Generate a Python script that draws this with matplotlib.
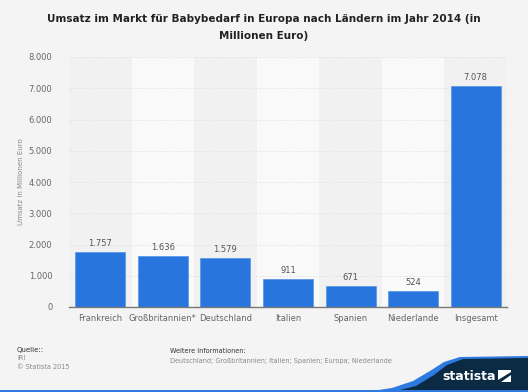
import matplotlib.pyplot as plt
import numpy as np
from matplotlib.patches import Polygon, Rectangle

laender = ['Frankreich', 'Großbritannien*', 'Deutschland', 'Italien', 'Spanien', 'Niederlande', 'Insgesamt']
umsatz = [1757, 1636, 1579, 911, 671, 524, 7078]
y_ticks = [0, 1000, 2000, 3000, 4000, 5000, 6000, 7000, 8000]

W, H = 528, 392

def fmt(v):
    return f'{v:,}'.replace(',', '.')

fig = plt.figure(figsize=(W / 100, H / 100), dpi=100)
fig.patch.set_facecolor('#f4f4f4')

ax = fig.add_axes([69 / W, 1 - 307 / H, 438 / W, 250 / H])
ax.set_facecolor('#f4f4f4')

x = np.arange(len(laender))
# abwechselnde Hintergrundstreifen
for i in x:
    col = '#f1f1f1' if i % 2 == 0 else '#f9f9f9'
    ax.axvspan(i - 0.5, i + 0.5, color=col, zorder=0, lw=0)

for t in y_ticks[1:]:
    ax.axhline(t, color='#e0e0e0', lw=0.6, ls=(0, (2, 2)), zorder=1)

bars = ax.bar(x, umsatz, width=0.8, color='#2876dd', edgecolor='#5c9ae8', lw=0.6, zorder=2)
for xi, v in zip(x, umsatz):
    ax.text(xi, v + 120, fmt(v), ha='center', va='bottom', fontsize=6, color='#555555')

ax.set_xlim(-0.5, len(laender) - 0.5)
ax.set_ylim(0, 8000)
ax.set_yticks(y_ticks)
ax.set_yticklabels([fmt(t) for t in y_ticks])
ax.set_xticks(x)
ax.set_xticklabels(laender)
ax.tick_params(axis='both', length=0, labelsize=6, colors='#666666')
ax.tick_params(axis='y', pad=12)
ax.tick_params(axis='x', pad=5)
for s in ['top', 'right', 'left']:
    ax.spines[s].set_visible(False)
ax.spines['bottom'].set_color('#777777')
ax.spines['bottom'].set_linewidth(1)
ax.set_ylabel('Umsatz in Millionen Euro', fontsize=5, color='#888888', labelpad=3)

fig.text(0.5, 1 - 27.5 / H, 'Umsatz im Markt für Babybedarf in Europa nach Ländern im Jahr 2014 (in\nMillionen Euro)',
         ha='center', va='center', fontsize=7.5, fontweight='bold', color='#222222', linespacing=1.85)

# Fußzeile
fig.text(17 / W, 1 - 350 / H, 'Quelle::', fontsize=5, color='#333333', va='center')
fig.text(17 / W, 1 - 358.5 / H, 'IRI', fontsize=4.7, color='#888888', va='center')
fig.text(17 / W, 1 - 367 / H, '© Statista 2015', fontsize=4.7, color='#888888', va='center')
fig.text(170 / W, 1 - 351 / H, 'Weitere Informationen:', fontsize=4.7, color='#333333', va='center')
fig.text(170 / W, 1 - 361 / H, 'Deutschland; Großbritannien; Italien; Spanien; Europa; Niederlande',
         fontsize=4.7, color='#888888', va='center')

def fx(px):
    return px / W

def fy(py):
    return 1 - py / H

blue_edge = [(365, 392), (392, 388), (413, 381), (430, 371), (444, 362), (460, 357), (528, 356), (528, 392)]
dark = [(392, 392), (416, 386), (434, 375), (447, 365), (463, 359), (528, 358), (528, 392)]
fig.patches.append(Polygon([(fx(a), fy(b)) for a, b in blue_edge], closed=True, transform=fig.transFigure,
                           facecolor='#2e7ae0', edgecolor='none'))
fig.patches.append(Polygon([(fx(a), fy(b)) for a, b in dark], closed=True, transform=fig.transFigure,
                           facecolor='#0b2a44', edgecolor='none'))
fig.patches.append(Rectangle((0, 0), 1, 2.5 / H, transform=fig.transFigure, facecolor='#2e7ae0', edgecolor='none'))
fig.text(469 / W, 1 - 376 / H, 'statista', ha='center', va='center', fontsize=9, fontweight='bold', color='white')
fig.patches.append(Polygon([(fx(a), fy(b)) for a, b in [(498, 370), (511, 370), (511, 382), (498, 382)]],
                           closed=True, transform=fig.transFigure, facecolor='white', edgecolor='none'))
fig.patches.append(Polygon([(fx(a), fy(b)) for a, b in [(498, 380), (511, 372), (511, 375), (501, 382), (498, 382)]],
                           closed=True, transform=fig.transFigure, facecolor='#0b2a44', edgecolor='none'))

fig.savefig('out.png', dpi=100, facecolor=fig.get_facecolor())
